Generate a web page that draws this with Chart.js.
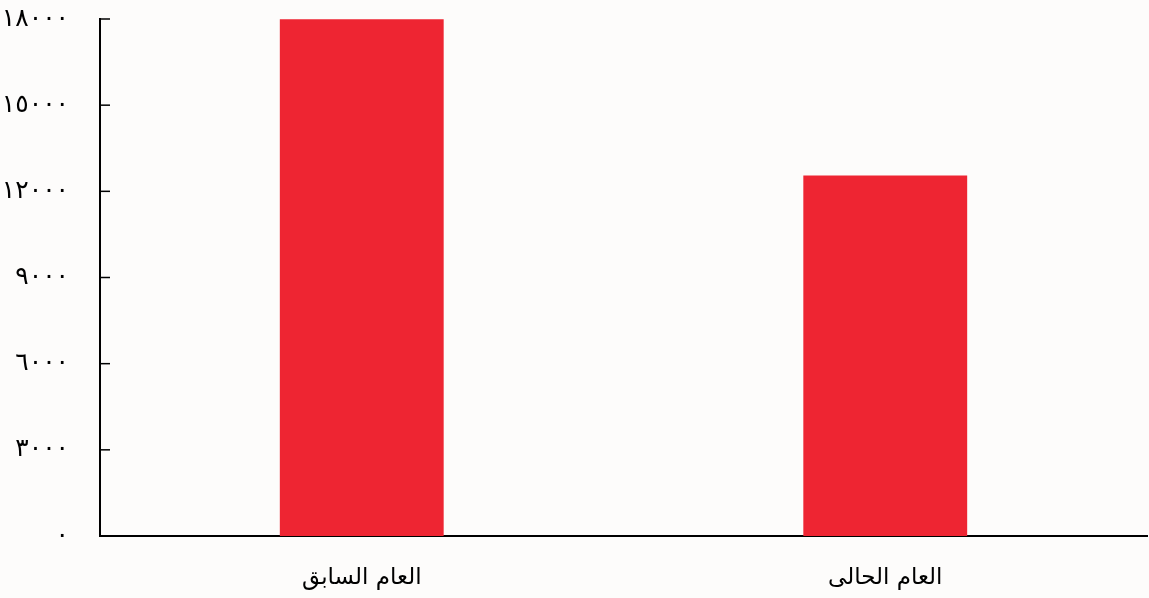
<!DOCTYPE html>
<html>
<head>
<meta charset="utf-8">
<script src="https://cdn.jsdelivr.net/npm/chart.js@4"></script>
<style>
  html, body { margin: 0; padding: 0; background: #fdfcfb; }
  #wrap { width: 1149px; height: 598px; }
</style>
</head>
<body>
<div id="wrap"><canvas id="bars"></canvas></div>
<script>
const categories = ['العام السابق', 'العام الحالى'];
const values = [17990, 12550];
const yTicks = [0, 3000, 6000, 9000, 12000, 15000, 18000];

const arabicDigits = '٠١٢٣٤٥٦٧٨٩';
function toArabic(n) {
    return String(n).replace(/[0-9]/g, d => arabicDigits[d]);
}

// short tick marks pointing into the plot from the y axis
const innerTicks = {
    id: 'innerTicks',
    afterDraw(chart) {
        const y = chart.scales.y;
        const c = chart.ctx;
        c.save();
        c.strokeStyle = '#000';
        c.lineWidth = 1.5;
        y.ticks.forEach(t => {
            const py = y.getPixelForValue(t.value);
            c.beginPath();
            c.moveTo(y.right, py);
            c.lineTo(y.right + 10, py);
            c.stroke();
        });
        c.restore();
    }
};

const ctx = document.getElementById('bars');

new Chart(ctx, {
    type: 'bar',
    data: {
        labels: categories,
        datasets: [{
            data: values,
            backgroundColor: '#ee2532',
            barPercentage: 0.313,
            categoryPercentage: 1
        }]
    },
    options: {
        responsive: true,
        maintainAspectRatio: false,
        animation: false,
        layout: { padding: { top: 0, right: 2, left: 0, bottom: 0 } },
        plugins: {
            legend: { display: false },
            tooltip: { enabled: false }
        },
        scales: {
            x: {
                grid: { display: false },
                border: { color: '#000', width: 2 },
                afterFit: axis => { axis.height = 62; },
                ticks: {
                    color: '#000',
                    padding: 20,
                    font: { family: 'DejaVu Sans', size: 23 }
                }
            },
            y: {
                min: 0,
                max: 18000,
                afterBuildTicks: axis => {
                    axis.ticks = yTicks.map(v => ({ value: v }));
                },
                afterFit: axis => {
                    axis.width = 100;
                    axis.paddingTop = 19;
                    axis.paddingBottom = 0;
                },
                grid: { display: false, drawTicks: false },
                border: { color: '#000', width: 2 },
                ticks: {
                    color: '#000',
                    padding: 31,
                    font: { family: 'DejaVu Sans', size: 25 },
                    callback: v => toArabic(v)
                }
            }
        }
    },
    plugins: [innerTicks]
});
</script>
</body>
</html>
